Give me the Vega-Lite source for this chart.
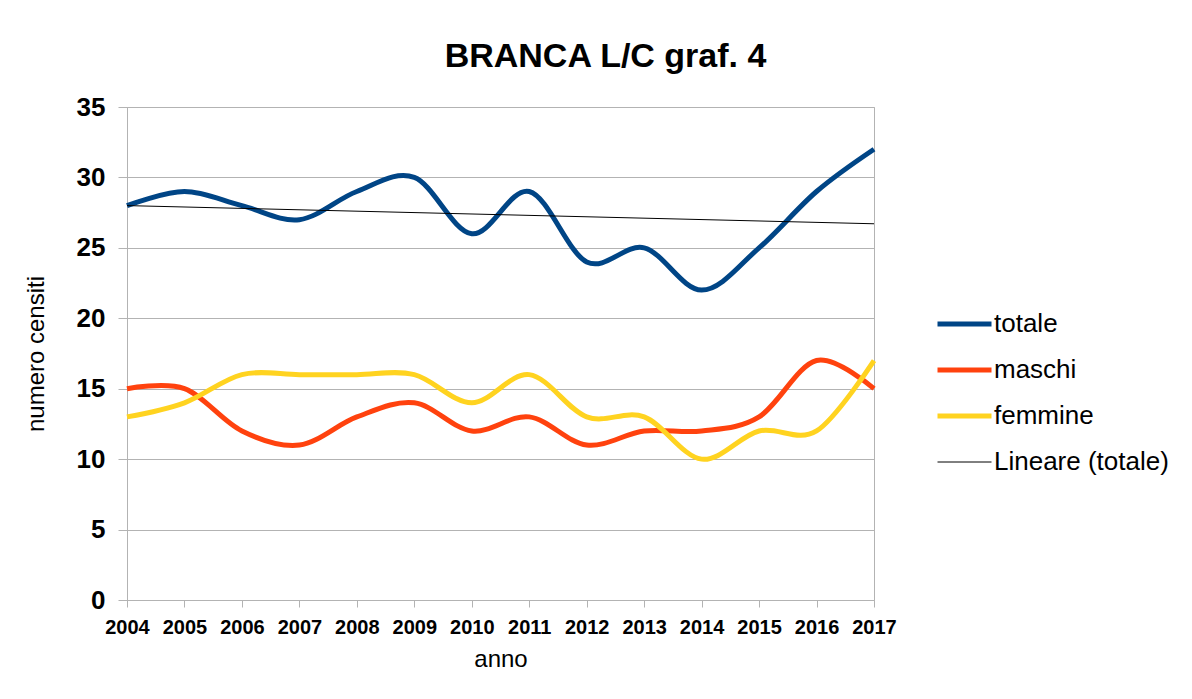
{
  "$schema": "https://vega.github.io/schema/vega-lite/v6.json",
  "width": 747,
  "height": 493,
  "autosize": {"type": "none"},
  "padding": {"left": 127, "top": 107, "right": 318, "bottom": 99},
  "background": "white",
  "title": {
    "text": "BRANCA L/C graf. 4",
    "anchor": "middle",
    "frame": "group",
    "dx": 105,
    "offset": -7,
    "baseline": "alphabetic",
    "font": "Liberation Sans",
    "fontSize": 34,
    "fontWeight": "bold",
    "color": "black"
  },
  "config": {
    "view": {"stroke": "#b3b3b3", "strokeWidth": 1},
    "font": "Liberation Sans"
  },
  "datasets": {
    "serie": [
      {"anno": 2004, "serie": "totale", "valore": 28},
      {"anno": 2005, "serie": "totale", "valore": 29},
      {"anno": 2006, "serie": "totale", "valore": 28},
      {"anno": 2007, "serie": "totale", "valore": 27},
      {"anno": 2008, "serie": "totale", "valore": 29},
      {"anno": 2009, "serie": "totale", "valore": 30},
      {"anno": 2010, "serie": "totale", "valore": 26},
      {"anno": 2011, "serie": "totale", "valore": 29},
      {"anno": 2012, "serie": "totale", "valore": 24},
      {"anno": 2013, "serie": "totale", "valore": 25},
      {"anno": 2014, "serie": "totale", "valore": 22},
      {"anno": 2015, "serie": "totale", "valore": 25},
      {"anno": 2016, "serie": "totale", "valore": 29},
      {"anno": 2017, "serie": "totale", "valore": 32},
      {"anno": 2004, "serie": "maschi", "valore": 15},
      {"anno": 2005, "serie": "maschi", "valore": 15},
      {"anno": 2006, "serie": "maschi", "valore": 12},
      {"anno": 2007, "serie": "maschi", "valore": 11},
      {"anno": 2008, "serie": "maschi", "valore": 13},
      {"anno": 2009, "serie": "maschi", "valore": 14},
      {"anno": 2010, "serie": "maschi", "valore": 12},
      {"anno": 2011, "serie": "maschi", "valore": 13},
      {"anno": 2012, "serie": "maschi", "valore": 11},
      {"anno": 2013, "serie": "maschi", "valore": 12},
      {"anno": 2014, "serie": "maschi", "valore": 12},
      {"anno": 2015, "serie": "maschi", "valore": 13},
      {"anno": 2016, "serie": "maschi", "valore": 17},
      {"anno": 2017, "serie": "maschi", "valore": 15},
      {"anno": 2004, "serie": "femmine", "valore": 13},
      {"anno": 2005, "serie": "femmine", "valore": 14},
      {"anno": 2006, "serie": "femmine", "valore": 16},
      {"anno": 2007, "serie": "femmine", "valore": 16},
      {"anno": 2008, "serie": "femmine", "valore": 16},
      {"anno": 2009, "serie": "femmine", "valore": 16},
      {"anno": 2010, "serie": "femmine", "valore": 14},
      {"anno": 2011, "serie": "femmine", "valore": 16},
      {"anno": 2012, "serie": "femmine", "valore": 13},
      {"anno": 2013, "serie": "femmine", "valore": 13},
      {"anno": 2014, "serie": "femmine", "valore": 10},
      {"anno": 2015, "serie": "femmine", "valore": 12},
      {"anno": 2016, "serie": "femmine", "valore": 12},
      {"anno": 2017, "serie": "femmine", "valore": 17}
    ],
    "trend": [
      {"anno": 2004, "serie": "Lineare (totale)", "valore": 28.0},
      {"anno": 2017, "serie": "Lineare (totale)", "valore": 26.71}
    ]
  },
  "encoding": {
    "x": {
      "field": "anno",
      "type": "ordinal",
      "scale": {"type": "point", "padding": 0, "domain": [2004,2005,2006,2007,2008,2009,2010,2011,2012,2013,2014,2015,2016,2017]},
      "axis": {
        "title": "anno",
        "labelAngle": 0,
        "labelFont": "Liberation Sans",
        "labelFontWeight": "bold",
        "labelFontSize": 20,
        "labelColor": "black",
        "labelPadding": 10,
        "tickSize": 7,
        "tickColor": "#b3b3b3",
        "domainColor": "#b3b3b3",
        "grid": false,
        "titleFont": "Liberation Sans",
        "titleFontSize": 24,
        "titleFontWeight": "normal",
        "titleColor": "black",
        "titlePadding": 10
      }
    },
    "y": {
      "field": "valore",
      "type": "quantitative",
      "scale": {"domain": [0, 35], "nice": false},
      "axis": {
        "title": "numero censiti",
        "values": [0,5,10,15,20,25,30,35],
        "labelFont": "Liberation Sans",
        "labelFontWeight": "bold",
        "labelFontSize": 26,
        "labelColor": "black",
        "labelPadding": 13,
        "tickSize": 9,
        "tickColor": "#b3b3b3",
        "domainColor": "#b3b3b3",
        "gridColor": "#b3b3b3",
        "titleFont": "Liberation Sans",
        "titleFontSize": 24,
        "titleFontWeight": "normal",
        "titleColor": "black",
        "titlePadding": 28
      }
    },
    "color": {
      "field": "serie",
      "type": "nominal",
      "scale": {
        "domain": ["totale", "maschi", "femmine", "Lineare (totale)"],
        "range": ["#004586", "#ff420e", "#ffd320", "#000000"]
      },
      "legend": {
        "title": null,
        "orient": "none",
        "legendX": 808,
        "legendY": 202,
        "padding": 0,
        "symbolType": "stroke",
        "symbolSize": 2916,
        "labelFont": "Liberation Sans",
        "labelFontSize": 26,
        "labelColor": "black",
        "labelOffset": 0,
        "labelLimit": 400,
        "clipHeight": 30,
        "rowPadding": 16
      }
    },
    "strokeWidth": {
      "field": "serie",
      "type": "ordinal",
      "scale": {
        "type": "ordinal",
        "domain": ["totale", "maschi", "femmine", "Lineare (totale)"],
        "range": [5, 5, 5, 1]
      }
    }
  },
  "layer": [
    {
      "data": {"name": "serie"},
      "mark": {"type": "line", "interpolate": "cardinal"}
    },
    {
      "data": {"name": "trend"},
      "mark": {"type": "line"}
    }
  ]
}
